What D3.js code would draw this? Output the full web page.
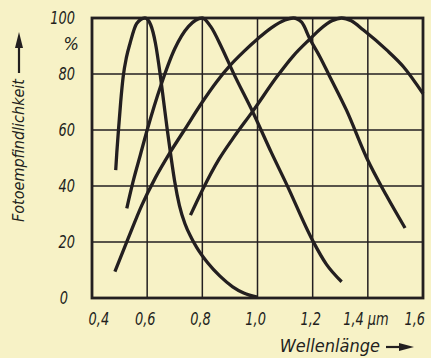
<!DOCTYPE html>
<html>
<head>
<meta charset="utf-8">
<script src="https://cdn.jsdelivr.net/npm/d3@7"></script>
<style>
  body { margin: 0; background: #f7f2c6; }
  svg { display: block; }
  .lbl { font-family: "DejaVu Sans Condensed", "Liberation Sans", sans-serif; font-style: italic; fill: #231f20; }
</style>
</head>
<body>
<div id="chart"></div>
<script>
// spectral sensitivity curves, [wavelength in µm, relative sensitivity in %]
var curveA = [[0.486, 45.7], [0.49, 52], [0.496, 60], [0.504, 70], [0.513, 79], [0.525, 86], [0.538, 91],
  [0.562, 98], [0.592, 100], [0.613, 97.5], [0.63, 91], [0.647, 80], [0.66, 70], [0.673, 60],
  [0.687, 50], [0.7, 41.5], [0.717, 33], [0.737, 26.5], [0.76, 21.5], [0.78, 18], [0.82, 12.5],
  [0.864, 7.8], [0.91, 4], [0.95, 1.8], [1.0, 0.3]];

var curveB = [[0.526, 32], [0.55, 42], [0.575, 51], [0.6, 60], [0.65, 76], [0.7, 89], [0.75, 97], [0.8, 100],
  [0.83, 97], [0.87, 89.5], [0.912, 80.5], [0.985, 66], [1.05, 52], [1.106, 40.5], [1.2, 20.5],
  [1.25, 12], [1.305, 5.8]];

var curveC = [[0.483, 9.4], [0.53, 21], [0.58, 33], [0.63, 43], [0.68, 51.5], [0.735, 60], [0.8, 70],
  [0.85, 77], [0.9, 83], [0.95, 88], [1.0, 92.5], [1.05, 96.5], [1.1, 99.3], [1.13, 100], [1.16, 98.5],
  [1.19, 92.5], [1.227, 86], [1.26, 79.5], [1.323, 67], [1.396, 50], [1.468, 36.5], [1.535, 25]];

var curveD = [[0.757, 29.6], [0.8, 38.5], [0.86, 49.5], [0.911, 57], [0.985, 67], [1.07, 79], [1.13, 86.5],
  [1.19, 92.5], [1.227, 96], [1.27, 99], [1.305, 100], [1.34, 99], [1.384, 95.7], [1.468, 88.6],
  [1.529, 82.6], [1.6, 73]];

var curves = [curveA, curveB, curveC, curveD];

var xTicks = [0.4, 0.6, 0.8, 1.0, 1.2, 1.4, 1.6];
var xTickLabels = ["0,4", "0,6", "0,8", "1,0", "1,2", "1,4 µm", "1,6"];
var yTicks = [0, 20, 40, 60, 80, 100];

var ink = "#231f20";
var squeeze = 0.8; // digits in the original are narrower than any installed font

// set width and height
var margin = {top: 18, right: 8, bottom: 60, left: 92},
    width = 431 - margin.left - margin.right,
    height = 358 - margin.top - margin.bottom;

var x = d3.scaleLinear().domain([0.4, 1.6]).range([0, width]);
var y = d3.scaleLinear().domain([0, 100]).range([height, 0]);

var svg = d3.select("#chart").append("svg")
    .attr("width", 431)
    .attr("height", 358);

var g = svg.append("g")
    .attr("transform", "translate(" + margin.left + "," + margin.top + ")");

// grid
g.selectAll(".vgrid")
  .data(xTicks.slice(1, -1))
  .enter().append("line")
  .attr("x1", function(d) { return x(d); })
  .attr("x2", function(d) { return x(d); })
  .attr("y1", 0)
  .attr("y2", height)
  .attr("stroke", ink)
  .attr("stroke-width", 1.5);

g.selectAll(".hgrid")
  .data(yTicks.slice(1, -1))
  .enter().append("line")
  .attr("x1", 0)
  .attr("x2", width)
  .attr("y1", function(d) { return y(d); })
  .attr("y2", function(d) { return y(d); })
  .attr("stroke", ink)
  .attr("stroke-width", 1.5);

// curves
var line = d3.line()
  .x(function(d) { return x(d[0]); })
  .y(function(d) { return y(d[1]); })
  .curve(d3.curveMonotoneX);

g.selectAll(".curve")
  .data(curves)
  .enter().append("path")
  .attr("d", line)
  .attr("fill", "none")
  .attr("stroke", ink)
  .attr("stroke-width", 3.3)
  .attr("stroke-linejoin", "round");

// frame
g.append("rect")
  .attr("width", width)
  .attr("height", height)
  .attr("fill", "none")
  .attr("stroke", ink)
  .attr("stroke-width", 2.8);

// x axis labels
var xAxis = g.append("g")
  .attr("transform", "translate(0," + height + ")")
  .call(d3.axisBottom(x)
    .tickValues(xTicks)
    .tickSize(0)
    .tickPadding(14)
    .tickFormat(function(d, i) { return xTickLabels[i]; }));
xAxis.select(".domain").remove();
xAxis.selectAll("text")
  .attr("class", "lbl")
  .style("font-size", "18px")
  .attr("transform", "scale(" + squeeze + ",1)")
  .attr("dx", function(d, i) {
    if (i === 0) return 8;
    if (i === xTicks.length - 1) return 2;
    return -3;
  })
  .style("text-anchor", function(d, i) { return i === xTicks.length - 1 ? "end" : "middle"; });

// y axis labels
var yAxis = g.append("g")
  .call(d3.axisLeft(y)
    .tickValues(yTicks)
    .tickSize(0)
    .tickPadding(17));
yAxis.select(".domain").remove();
yAxis.selectAll("text")
  .attr("class", "lbl")
  .style("font-size", "18px")
  .attr("x", function(d) { return (d === 0 ? -24 : -17) / squeeze; })
  .attr("transform", "scale(" + squeeze + ",1)");

g.append("text")
  .attr("class", "lbl")
  .attr("x", -13)
  .attr("y", y(91))
  .attr("dy", "0.36em")
  .style("font-size", "18px")
  .style("text-anchor", "end")
  .text("%");

// axis titles with arrows
svg.append("text")
  .attr("class", "lbl")
  .attr("transform", "translate(24,222) rotate(-90)")
  .style("font-size", "16px")
  .text("Fotoempfindlichkeit");

svg.append("line")
  .attr("x1", 19).attr("x2", 19)
  .attr("y1", 73).attr("y2", 44)
  .attr("stroke", ink).attr("stroke-width", 2.2);
svg.append("path")
  .attr("d", "M19,32 L15,48 L23,48 Z")
  .attr("fill", ink);

svg.append("text")
  .attr("class", "lbl")
  .attr("x", 380)
  .attr("y", 352)
  .style("font-size", "18px")
  .style("text-anchor", "end")
  .text("Wellenlänge");

svg.append("line")
  .attr("x1", 386).attr("x2", 402)
  .attr("y1", 347).attr("y2", 347)
  .attr("stroke", ink).attr("stroke-width", 2.2);
svg.append("path")
  .attr("d", "M414,347 L399,343 L399,351 Z")
  .attr("fill", ink);
</script>
</body>
</html>
